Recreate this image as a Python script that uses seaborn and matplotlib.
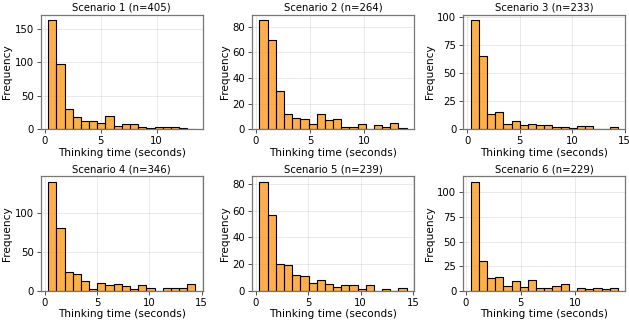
import numpy as np
import pandas as pd
import seaborn as sns
import matplotlib
matplotlib.use("Agg")
import matplotlib.pyplot as plt

# Histogram counts (18 equal-width bins per scenario)
titles = ["Scenario 1 (n=405)", "Scenario 2 (n=264)", "Scenario 3 (n=233)",
          "Scenario 4 (n=346)", "Scenario 5 (n=239)", "Scenario 6 (n=229)"]

# range of the binned data (min, max) in seconds
ranges = [(0.30, 13.48), (0.36, 13.88), (0.32, 14.34),
          (0.35, 14.39), (0.35, 14.40), (0.43, 13.90)]

counts_1 = [163, 98, 31, 19, 13, 12, 10, 20, 5, 8, 8, 3, 2, 4, 3, 3, 2, 1]
counts_2 = [85, 70, 30, 12, 9, 8, 4, 12, 7, 8, 2, 2, 4, 0, 3, 2, 5, 1]
counts_3 = [97, 65, 14, 15, 5, 7, 4, 5, 4, 4, 2, 2, 1, 3, 3, 0, 0, 2]
counts_4 = [141, 81, 24, 22, 13, 2, 10, 7, 9, 6, 2, 7, 3, 0, 4, 3, 3, 9]
counts_5 = [82, 57, 20, 19, 12, 11, 6, 8, 5, 3, 4, 4, 1, 4, 0, 1, 0, 2]
counts_6 = [111, 30, 13, 14, 5, 10, 4, 11, 3, 3, 5, 7, 0, 3, 2, 3, 2, 3]
all_counts = [counts_1, counts_2, counts_3, counts_4, counts_5, counts_6]

plt.rcParams.update({
    "font.family": "DejaVu Sans",
    "axes.edgecolor": "#777777",
    "axes.linewidth": 0.9,
    "xtick.labelsize": 7.3,
    "ytick.labelsize": 7.3,
    "xtick.color": "#333333",
    "ytick.color": "#333333",
    "xtick.labelcolor": "black",
    "ytick.labelcolor": "black",
    "xtick.major.size": 3,
    "ytick.major.size": 3,
    "xtick.major.width": 0.6,
    "ytick.major.width": 0.6,
    "xtick.major.pad": 2,
    "ytick.major.pad": 2,
})

fig, axes = plt.subplots(2, 3, figsize=(6.29, 3.24), dpi=100)
fig.subplots_adjust(left=0.065, right=0.994, top=0.954, bottom=0.103,
                    wspace=0.305, hspace=0.41)

for ax, title, rng, counts in zip(axes.flat, titles, ranges, all_counts):
    edges = np.linspace(rng[0], rng[1], len(counts) + 1)
    df = pd.DataFrame({"time": (edges[:-1] + edges[1:]) / 2, "count": counts})
    sns.histplot(data=df, x="time", weights="count", bins=edges.tolist(), ax=ax,
                 color="darkorange", alpha=0.7, edgecolor="black", linewidth=0.8)
    ax.set_title(title, fontsize=7.3, pad=3)
    ax.set_xlabel("Thinking time (seconds)", fontsize=7.6, labelpad=1)
    ax.set_ylabel("Frequency", fontsize=7.6, labelpad=2)
    ax.grid(True, alpha=0.3, linewidth=0.6)
    ax.set_axisbelow(True)

plt.savefig("out.png", dpi=100)
